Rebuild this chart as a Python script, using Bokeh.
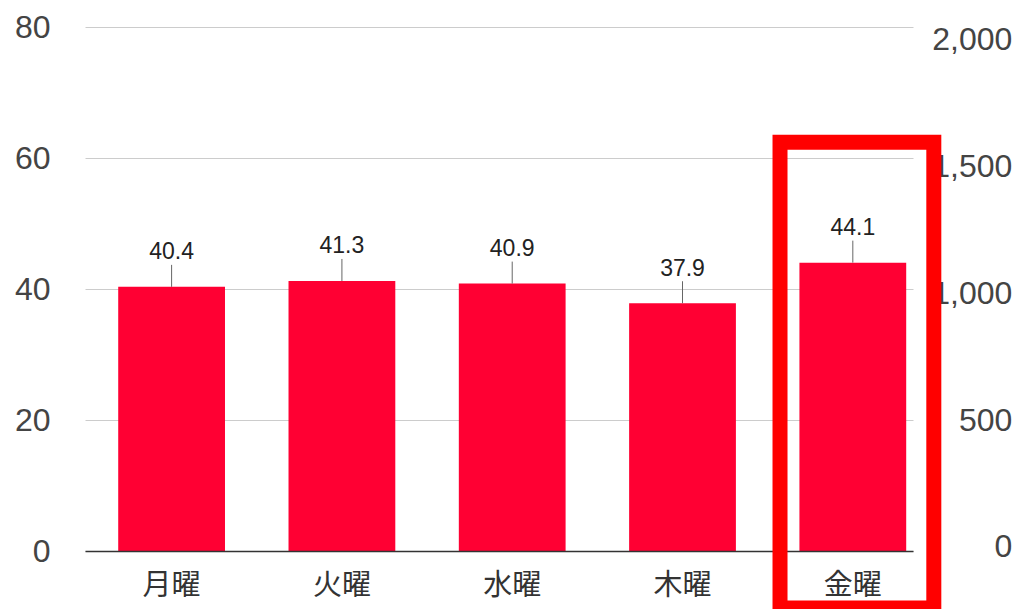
from bokeh.plotting import figure
from bokeh.models import (Range1d, LinearAxis, FixedTicker, NumeralTickFormatter,
                          BoxAnnotation, ColumnDataSource)
from bokeh.core.properties import value
from bokeh.embed import file_html
from bokeh.resources import INLINE
import math

# ---- data ----
days = ["月曜", "火曜", "水曜", "木曜", "金曜"]
rates = [40.4, 41.3, 40.9, 37.9, 44.1]
left_ticks = [0, 20, 40, 60, 80]
right_ticks = [0, 500, 1000, 1500, 2000]
highlight = "金曜"

xs = list(range(len(days)))
labels = [f"{v:.1f}" for v in rates]
src = ColumnDataSource(dict(x=xs, y=rates, label=labels))

NUM_FONT = "Liberation Sans"
CJK_FONT = "Noto Sans CJK JP"

# layout constants (data-space extents of the plotting region)
X_LEFT, X_RIGHT = -0.5056, 4.3564       # edges of the chart area
X_RIGHT_LABELS = 4.9366                 # right edge of the right-hand tick labels

p = figure(width=1017, height=609, output_backend="svg", toolbar_location=None,
           title=None,
           x_range=Range1d(-1.0047, 4.967), y_range=Range1d(-8.855, 84.12),
           min_border_left=0, min_border_right=0, min_border_top=0,
           min_border_bottom=0)
p.outline_line_color = None
p.background_fill_color = "white"
p.border_fill_color = "white"

p.extra_y_ranges = {"right": Range1d(-248.3, 2151.7)}

# grid
p.xgrid.grid_line_color = None
p.ygrid.grid_line_color = "#cccccc"
p.ygrid.grid_line_width = 1
p.ygrid.ticker = FixedTicker(ticks=left_ticks)
p.ygrid.cross_bounds = (X_LEFT, X_RIGHT)

# left axis
ya = p.yaxis[0]
ya.ticker = FixedTicker(ticks=left_ticks)
ya.fixed_location = X_LEFT
ya.axis_line_color = None
ya.major_tick_line_color = None
ya.minor_tick_line_color = None
ya.major_tick_out = 0
ya.minor_tick_out = 0
ya.major_label_standoff = 35
ya.major_label_text_font = NUM_FONT
ya.major_label_text_font_size = "32px"
ya.major_label_text_color = "#444444"

# right-hand value axis (labels right-aligned at the page edge)
ra = LinearAxis(y_range_name="right", ticker=FixedTicker(ticks=right_ticks),
                formatter=NumeralTickFormatter(format="0,0"),
                fixed_location=X_RIGHT_LABELS)
ra.axis_line_color = None
ra.major_tick_line_color = None
ra.minor_tick_line_color = None
ra.major_tick_out = 0
ra.minor_tick_out = 0
ra.major_label_standoff = 0
ra.major_label_text_font = NUM_FONT
ra.major_label_text_font_size = "32px"
ra.major_label_text_color = "#444444"
p.add_layout(ra, "left")

# bottom axis
xa = p.xaxis[0]
xa.ticker = FixedTicker(ticks=xs)
xa.major_label_overrides = {i: d for i, d in enumerate(days)}
xa.fixed_location = 0
xa.bounds = (X_LEFT, X_RIGHT)
xa.axis_line_color = "#333333"
xa.axis_line_width = 1.5
xa.major_tick_line_color = None
xa.minor_tick_line_color = None
xa.major_tick_out = 0
xa.minor_tick_out = 0
xa.major_label_standoff = 10
xa.major_label_text_font = CJK_FONT
xa.major_label_text_font_size = "29px"
xa.major_label_text_color = "#333333"

# bars
p.vbar(x="x", top="y", bottom=0, width=0.627, source=src,
       fill_color="#ff0033", line_color=None)

# stems and value labels
p.ray(x="x", y="y", length=22, length_units="screen", angle=math.pi / 2,
      source=src, line_color="#666666", line_width=1)
p.text(x="x", y="y", text="label", source=src, y_offset=-36,
       text_align="center", text_baseline="middle",
       text_font=value(NUM_FONT), text_font_size="23px", text_color="#222222")

# highlight box around the chosen day
hi = days.index(highlight)
p.add_layout(BoxAnnotation(left=hi - 0.4275, right=hi + 0.4756, top=62.49, bottom=-8.61,
                           fill_alpha=0, line_color="#ff0000", line_alpha=1.0,
                           line_width=15, line_join="miter"))

open("out.html", "w").write(file_html(p, INLINE))
